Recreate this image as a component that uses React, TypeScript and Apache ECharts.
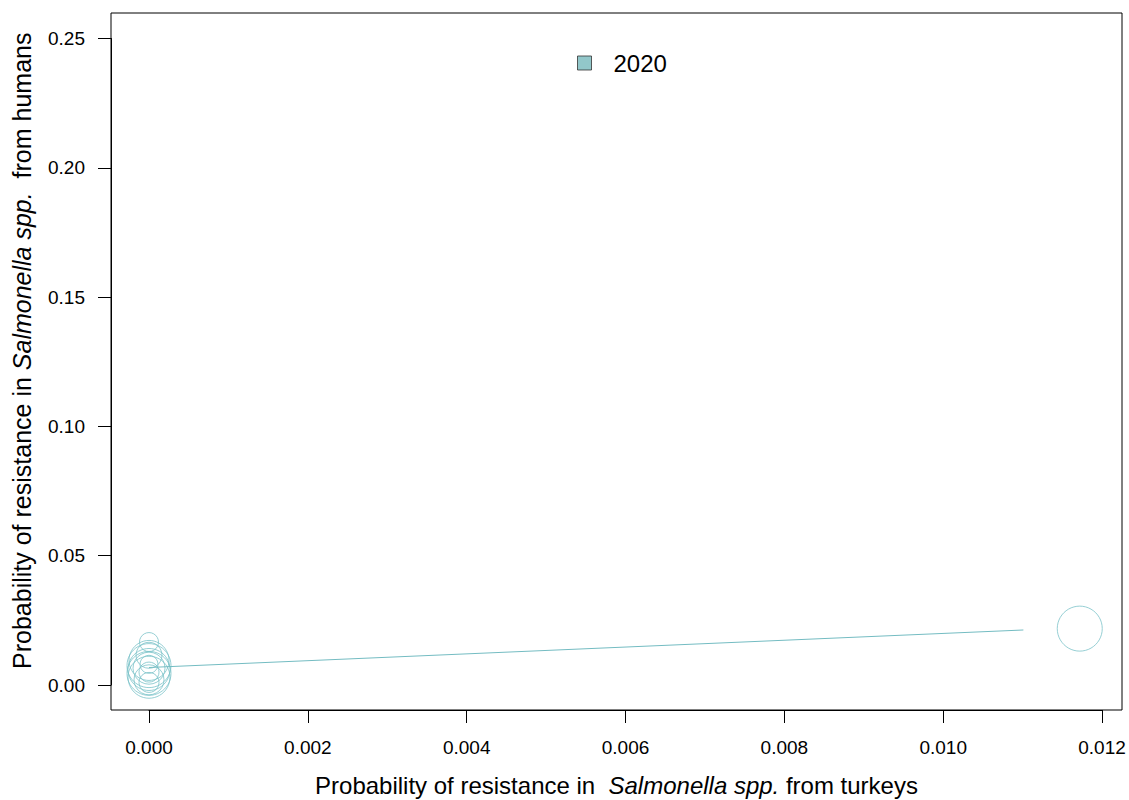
import React, { useEffect, useRef } from "react";
import * as echarts from "echarts";

// Data
const legendLabel = "2020";
const clusterX: number[] = [0, 0, 0, 0, 0, 0, 0, 0, 0, 0, 0, 0];
const clusterY: number[] = [0.0166, 0.0115, 0.0095, 0.0075, 0.006, 0.0045, 0.003, 0.002, 0.008, 0.005, 0.001, 0.0065];
const clusterSize: number[] = [19, 26, 40, 44, 42, 44, 42, 30, 18, 20, 20, 32];
const outlierX: number[] = [0.01172];
const outlierY: number[] = [0.0218];
const outlierSize: number[] = [45];
const fitX: number[] = [0, 0.01101];
const fitY: number[] = [0.00677, 0.02127];
const xTicks: number[] = [0, 0.002, 0.004, 0.006, 0.008, 0.01, 0.012];
const yTicks: number[] = [0, 0.05, 0.1, 0.15, 0.2, 0.25];

const FONT = "'Liberation Sans', Arial, sans-serif";
const TEAL = "#7cc3c9";

export default function App() {
  const ref = useRef<HTMLDivElement>(null);
  useEffect(() => {
    if (!ref.current) return;
    const chart = echarts.init(ref.current, undefined, { renderer: "svg" });
    const pts: number[][] = [];
    clusterX.forEach((x, i) => pts.push([x, clusterY[i], clusterSize[i]]));
    outlierX.forEach((x, i) => pts.push([x, outlierY[i], outlierSize[i]]));
    const xStep = xTicks[1] - xTicks[0];
    const yStep = yTicks[1] - yTicks[0];
    chart.setOption({
      animation: false,
      backgroundColor: "#fff",
      textStyle: { fontFamily: FONT },
      graphic: [
        {
          type: "rect",
          shape: { x: 111, y: 13, width: 1011, height: 697 },
          style: { fill: "none", stroke: "#000", lineWidth: 1 },
          silent: true,
        },
      ],
      legend: {
        left: 577,
        top: 51,
        padding: 0,
        itemWidth: 14,
        itemHeight: 14,
        data: [
          {
            name: legendLabel,
            icon: "rect",
            itemStyle: { color: "#77b9bd", borderColor: "#333", borderWidth: 1 },
          },
        ],
        textStyle: { fontSize: 24, color: "#000", fontFamily: FONT, padding: [0, 0, 0, 17] },
        selectedMode: false,
      },
      grid: {
        left: 149,
        top: 38.5,
        width: 953,
        height: 646.5,
        containLabel: false,
        outerBoundsMode: "none",
      },
      xAxis: {
        type: "value",
        min: xTicks[0],
        max: xTicks[xTicks.length - 1],
        interval: xStep,
        offset: 25,
        axisLine: { show: true, onZero: false, lineStyle: { color: "#000", width: 1 } },
        axisTick: { show: true, length: 13, lineStyle: { color: "#000" } },
        axisLabel: {
          margin: 28,
          fontSize: 19,
          color: "#000",
          fontFamily: FONT,
          formatter: (v: number) => v.toFixed(3),
        },
        splitLine: { show: false },
        name: "Probability of resistance in  {i|Salmonella spp.} from turkeys",
        nameLocation: "middle",
        nameGap: 63,
        nameTextStyle: {
          fontSize: 24,
          color: "#000",
          fontFamily: FONT,
          padding: [0, 18, 0, 0],
          rich: { i: { fontSize: 24, fontStyle: "italic", color: "#000", fontFamily: FONT } },
        },
      },
      yAxis: {
        type: "value",
        min: yTicks[0],
        max: yTicks[yTicks.length - 1],
        interval: yStep,
        offset: 38,
        axisLine: { show: true, onZero: false, lineStyle: { color: "#000", width: 1 } },
        axisTick: { show: true, length: 13, lineStyle: { color: "#000" } },
        axisLabel: {
          margin: 26,
          fontSize: 19,
          color: "#000",
          fontFamily: FONT,
          formatter: (v: number) => v.toFixed(2),
        },
        splitLine: { show: false },
        name: "Probability of resistance in {i|Salmonella spp.}  from humans",
        nameLocation: "middle",
        nameGap: 77,
        nameTextStyle: {
          fontSize: 25,
          color: "#000",
          fontFamily: FONT,
          padding: [0, 0, 0, 22],
          rich: { i: { fontSize: 25, fontStyle: "italic", color: "#000", fontFamily: FONT } },
        },
      },
      series: [
        {
          name: legendLabel,
          type: "scatter",
          data: pts,
          symbol: "circle",
          symbolSize: (d: number[]) => d[2],
          clip: false,
          itemStyle: { color: "rgba(0,0,0,0)", borderColor: TEAL, borderWidth: 1 },
          emphasis: { disabled: true },
        },
        {
          name: "fit",
          type: "line",
          data: fitX.map((x, i) => [x, fitY[i]]),
          showSymbol: false,
          symbol: "none",
          lineStyle: { color: "#74bcc2", width: 1 },
          emphasis: { disabled: true },
        },
      ],
    });
    return () => chart.dispose();
  }, []);
  return (
    <div
      ref={ref}
      style={{ position: "absolute", left: 0, top: 0, width: 1129, height: 800 }}
    />
  );
}
